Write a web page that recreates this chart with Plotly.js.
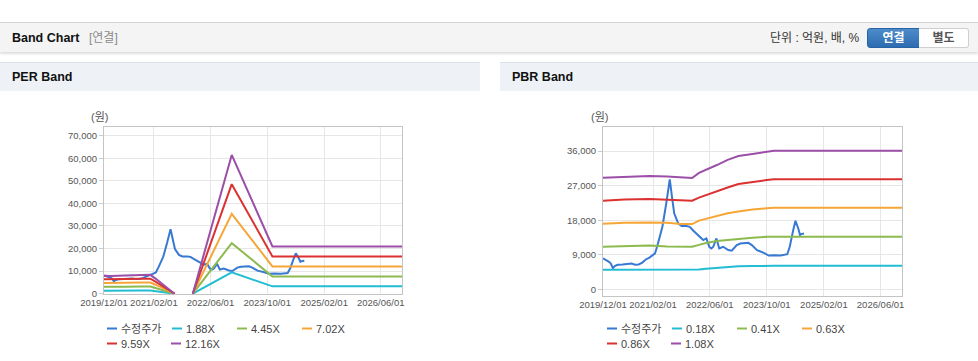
<!DOCTYPE html>
<html><head><meta charset="utf-8">
<script src="https://cdn.plot.ly/plotly-3.0.1.min.js"></script>
<style>
body{margin:0;width:978px;height:361px;position:relative;overflow:hidden;background:#fff;font-family:"Liberation Sans","Noto Sans CJK KR",sans-serif;}
.hdr{position:absolute;left:0;top:22px;width:978px;height:29px;background:#f4f4f4;border-top:1px solid #d3d3d3;box-shadow:0 2px 2px rgba(0,0,0,0.13);}
.t1{position:absolute;left:12px;top:0;line-height:30px;font-size:12.5px;font-weight:bold;color:#111;}
.t2{position:absolute;left:89px;top:0;line-height:30px;font-size:12px;color:#8a8a8a;}
.unit{position:absolute;left:770px;top:0;line-height:30px;font-size:12px;color:#333;}
.btn{position:absolute;top:5px;height:18px;line-height:18px;font-size:12px;font-weight:bold;text-align:center;}
.b1{left:867px;width:51px;background:linear-gradient(#4d8bcb,#2d6cb0);color:#fff;border:1px solid #2a63a3;border-radius:3px 0 0 3px;}
.b2{left:919px;width:49px;background:#fff;color:#555;border:1px solid #cfcfcf;border-left:none;border-radius:0 3px 3px 0;}
.ph{position:absolute;top:62px;height:28px;background:#eef1f6;border-top:1px solid #dde2ea;}
.ph span{position:absolute;left:12px;top:0;line-height:29px;font-size:12.5px;font-weight:bold;color:#111;}
#per{position:absolute;left:0;top:92px;width:480px;height:269px;}
#pbr{position:absolute;left:500px;top:92px;width:478px;height:269px;}
</style>
</head><body>
<div class="hdr">
  <span class="t1">Band Chart</span><span class="t2">[연결]</span>
  <span class="unit">단위 : 억원, 배, %</span>
  <div class="btn b1">연결</div><div class="btn b2">별도</div>
</div>
<div class="ph" style="left:0;width:480px;"><span>PER Band</span></div>
<div class="ph" style="left:500px;width:478px;"><span>PBR Band</span></div>
<div id="per"></div>
<div id="pbr"></div>
<script>
// ---------- data ----------
const priceName = '수정주가';
const priceDates = ['2019-12-01','2019-12-22','2020-01-15','2020-02-05','2020-02-24','2020-03-10','2020-04-05','2020-05-15','2020-07-01','2020-08-01','2020-09-01','2020-10-01','2020-11-01','2020-12-01','2021-01-01','2021-02-01','2021-02-18','2021-03-15','2021-04-22','2021-05-25','2021-06-24','2021-07-13','2021-08-01','2021-09-04','2021-10-03','2021-11-15','2021-12-12','2022-01-12','2022-02-09','2022-03-07','2022-04-06','2022-05-03','2022-05-28','2022-06-15','2022-07-01','2022-07-28','2022-08-21','2022-09-24','2022-11-06','2022-12-06','2023-01-18','2023-02-18','2023-04-27','2023-05-27','2023-07-10','2023-09-06','2023-10-18','2023-12-01','2024-01-28','2024-03-25','2024-04-15','2024-05-15','2024-06-03','2024-06-27','2024-07-12','2024-07-21','2024-08-15'];
const priceValues = [8070,7800,7300,6800,5500,6100,6400,6500,6600,6750,6450,6500,7000,7800,8300,9000,9370,11970,16300,22400,28600,24100,19800,17200,16500,16500,16300,15270,14400,13700,12840,13270,11100,10670,11100,13270,10670,11100,10240,10060,11540,11960,12130,11530,10200,9520,8830,8920,8830,9170,11100,15440,17870,15870,14140,14400,14570];

const perNames = ['1.88X','4.45X','7.02X','9.59X','12.16X'];
const perDates = ['2019-12-01','2020-02-01','2020-06-01','2020-10-01','2021-01-01','2021-02-15','2021-07-28','2021-10-01','2022-01-01','2022-12-01','2023-11-15','2026-12-01'];
const per188  = [1300,1250,1300,1350,1350,1080,0,null,0,9430,3240,3240];
const per445  = [3050,3000,3050,3150,3150,2520,0,null,0,22400,7650,7650];
const per702  = [4750,4700,4800,4950,4950,3960,0,null,0,35380,12070,12070];
const per959  = [6350,6300,6450,6650,6650,5320,0,null,0,48500,16500,16500];
const per1216 = [7950,7850,8100,8350,8350,6680,0,null,0,61470,20920,20920];

const pbrNames = ['0.18X','0.41X','0.63X','0.86X','1.08X'];
const pbrDates = ['2019-12-01','2020-06-01','2021-01-01','2021-06-01','2021-10-01','2022-01-01','2022-03-01','2022-05-01','2022-08-01','2022-11-01','2023-02-01','2023-06-01','2023-10-01','2023-12-01','2026-12-01'];
const pbr018 = [5120,5120,5120,5120,5120,5120,5200,5400,5600,5850,6050,6100,6140,6140,6140];
const pbr041 = [11100,11250,11450,11150,11100,11100,11600,12100,12600,12900,13200,13450,13690,13690,13690];
const pbr063 = [17090,17350,17440,17350,17000,17000,17900,18400,19100,19800,20300,20800,21100,21240,21240];
const pbr086 = [23070,23420,23510,23400,23250,23070,23900,24600,25500,26500,27400,28000,28450,28630,28630];
const pbr108 = [29060,29320,29490,29400,29200,28970,30300,31050,32360,33700,34700,35230,35820,36080,36080];

const xTickVals = ['2019-12-01','2021-02-01','2022-06-01','2023-10-01','2025-02-01','2026-06-01'];
const xTickText = ['2019/12/01','2021/02/01','2022/06/01','2023/10/01','2025/02/01','2026/06/01'];
const perYTicks = [0,10000,20000,30000,40000,50000,60000,70000];
const pbrYTicks = [0,9000,18000,27000,36000];
const yUnit = '(원)';

// ---------- styles ----------
const colors = ['#3779d3','#22bdd3','#8cba4e','#f6a637','#db3130','#9b4fa8'];
const FONT = '"Liberation Sans","Noto Sans CJK KR",sans-serif';

function build(div, W, H, m, yr, yTicks, bandNames, bandDates, bands){
  const pw = W - m.l - m.r, ph = H - m.t - m.b;
  const px = x => (x - m.l) / pw;
  const py = y => (m.t + ph - y) / ph;
  const traces = [{x: priceDates, y: priceValues, name: priceName, type:'scatter', mode:'lines',
                   line:{color:colors[0], width:2}, showlegend:false, connectgaps:false}];
  bands.forEach((b,i)=>traces.push({x: bandDates, y: b, name: bandNames[i], type:'scatter', mode:'lines',
                   line:{color:colors[i+1], width:2}, showlegend:false, connectgaps:false}));
  // custom legend (swatch + label), laid out like the original
  const names = [priceName].concat(bandNames);
  const slots = [[107,236.5],[172,236.5],[237,236.5],[302,236.5],[107,251.5],[171,251.5]];
  const shapes = [], ann = [];
  names.forEach((n,i)=>{
    const [sx,sy] = slots[i];
    shapes.push({type:'line', xref:'paper', yref:'paper', x0:px(sx), x1:px(sx+10), y0:py(sy), y1:py(sy),
                 line:{color:colors[i], width:2}});
    ann.push({xref:'paper', yref:'paper', x:px(sx+12), y:py(sy), xanchor:'left', yanchor:'middle',
              showarrow:false, text:n, font:{family:FONT, size:11, color:'#444'}});
  });
  ann.push({xref:'paper', yref:'paper', x:px(99), y:py(25), xanchor:'center', yanchor:'middle',
            showarrow:false, text:yUnit, font:{family:FONT, size:11, color:'#555'}});
  const layout = {
    width:W, height:H, margin:m, paper_bgcolor:'#fff', plot_bgcolor:'#fff',
    font:{family:FONT, size:9.5, color:'#555'},
    xaxis:{type:'date', range:['2019-12-01','2026-12-01'], tickmode:'array', tickvals:xTickVals, ticktext:xTickText,
           showgrid:true, gridcolor:'#e6e6e6', showline:true, mirror:true, linecolor:'#c4c4c4', linewidth:1,
           zeroline:false, ticks:'', tickfont:{size:9.5, color:'#555'}, fixedrange:true},
    yaxis:{range:yr, tickmode:'array', tickvals:yTicks, tickformat:',d', showgrid:true, gridcolor:'#e6e6e6',
           showline:true, mirror:true, linecolor:'#c4c4c4', linewidth:1, zeroline:false,
           ticks:'outside', ticklen:4, tickcolor:'#cccccc', tickfont:{size:9.5, color:'#555'}, fixedrange:true},
    showlegend:false, shapes:shapes, annotations:ann
  };
  Plotly.newPlot(div, traces, layout, {staticPlot:true, displayModeBar:false});
}

build('per', 480, 269, {l:104, r:78, t:35, b:67, pad:0}, [-150, 73850], perYTicks, perNames, perDates,
      [per188, per445, per702, per959, per1216]);
build('pbr', 478, 269, {l:103, r:76, t:35, b:65, pad:0}, [-1700, 42250], pbrYTicks, pbrNames, pbrDates,
      [pbr018, pbr041, pbr063, pbr086, pbr108]);
</script>
</body></html>
